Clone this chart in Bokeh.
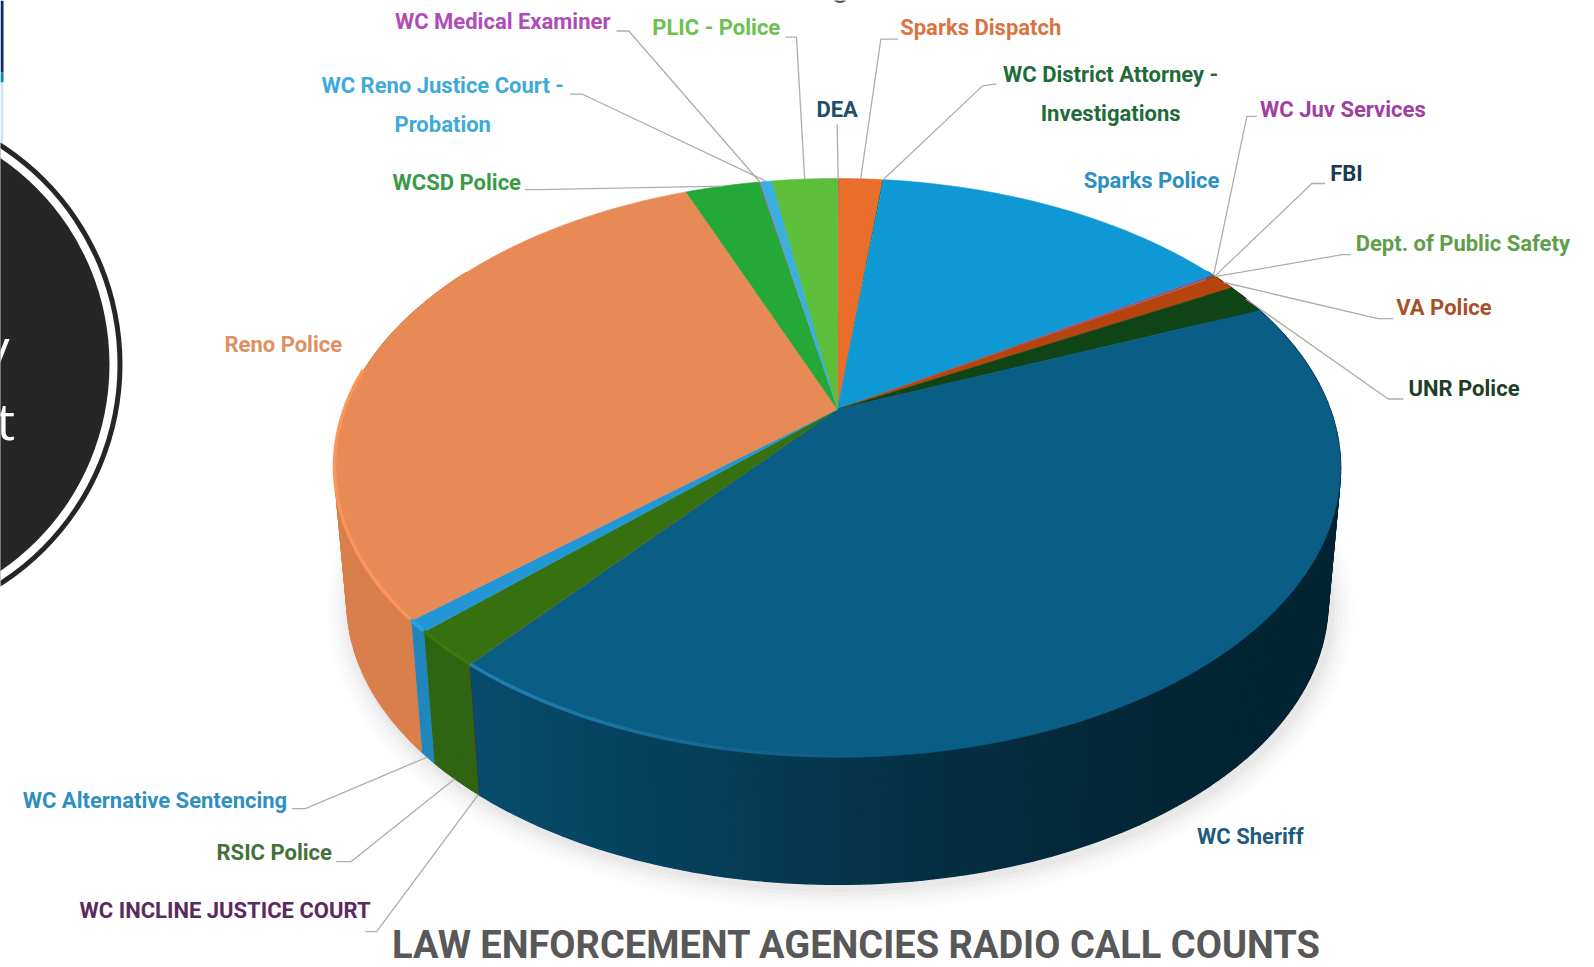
import math
from bokeh.plotting import figure
from bokeh.embed import file_html
from bokeh.resources import INLINE
from bokeh.core.properties import value

# ---- data: share of radio calls, clockwise from 12 o'clock
agencies = ["DEA", "Sparks Dispatch", "WC District Attorney -\nInvestigations", "Sparks Police",
            "WC Juv Services", "FBI", "Dept. of Public Safety", "VA Police", "UNR Police",
            "WC Sheriff", "WC INCLINE JUSTICE COURT", "RSIC Police", "WC Alternative Sentencing",
            "Reno Police", "WCSD Police", "WC Medical Examiner", "WC Reno Justice Court -\nProbation",
            "PLIC - Police"]
shares = [0.05, 1.70, 0.05, 14.20, 0.10, 0.02, 0.02, 0.90, 1.70, 42.10, 0.02, 2.00, 0.65,
          30.55, 2.90, 0.05, 0.45, 2.55]
face_colors = ["#1f4e6b", "#E96D2B", "#1c6b3a", "#0E99D5", "#9a3f9a", "#1b3a52", "#5aa83c", "#B5440F",
               "#0F4416", "#0A5D84", "#5a2a5c", "#36700F", "#2397D6", "#E88A55", "#24A838", "#b34db3",
               "#3bb0e0", "#5DBE3B"]
side_colors = ["#1f4e6b", "#c85a22", "#1c6b3a", "#0a7fb0", "#7a307a", "#1b3a52", "#4a8a30", "#8f350c",
               "#0b3410", "#074663", "#4a2050", "#2f6512", "#2186BE", "#D97F4C", "#1e8a2e", "#8f3d8f",
               "#2f95c0", "#4a9a30"]
label_colors = ["#1f4e6b", "#D9743F", "#1f6b3a", "#2b8fc0", "#A03FA0", "#1b3a52", "#5f9e4a", "#A8502A",
                "#1d3f25", "#1d5c80", "#5a2a5c", "#44703a", "#2f8fc0", "#DE905F", "#3a9a48", "#B04CB8",
                "#3fa9d8", "#6CC04F"]
title_text = "LAW ENFORCEMENT AGENCIES RADIO CALL COUNTS"

# ---- layout (page pixels)
W, H = 1594, 967
CX, V0 = 837.0, 408.7
A, B, K = 492.6, 277.5, 0.2028
S, V1 = 0.975, 544.4
S2 = 1.0166
LABEL_FONT = "Roboto"
label_pos = {  # x, y, align (shrunk-view coordinates)
    "DEA": (823, 107, "center"), "Sparks Dispatch": (885, 27, "left"),
    "WC District Attorney -\nInvestigations": (1092, 92, "center"), "Sparks Police": (1199, 177, "right"),
    "WC Juv Services": (1239, 107, "left"), "FBI": (1308, 170, "left"),
    "Dept. of Public Safety": (1333, 239, "left"), "VA Police": (1373, 302, "left"),
    "UNR Police": (1385, 382, "left"), "WC Sheriff": (1177, 822, "left"),
    "WC INCLINE JUSTICE COURT": (364, 895, "right"), "RSIC Police": (326, 838, "right"),
    "WC Alternative Sentencing": (282, 787, "right"), "Reno Police": (336, 338, "right"),
    "WCSD Police": (512, 179, "right"), "WC Medical Examiner": (600, 21, "right"),
    "WC Reno Justice Court -\nProbation": (435, 103, "center"), "PLIC - Police": (767, 27, "right"),
}
leaders = {  # label-side tick start, elbow, (rim anchor is computed from the slice)
    "DEA": [(823, 122), (823, 122)], "Sparks Dispatch": [(883, 38), (866, 38)],
    "WC District Attorney -\nInvestigations": [(980, 82), (966, 84)],
    "WC Juv Services": [(1236, 114), (1226, 114)], "FBI": [(1303, 180), (1290, 180)],
    "Dept. of Public Safety": [(1328, 250), (1320, 250)], "VA Police": [(1370, 313), (1355, 313)],
    "UNR Police": [(1380, 392), (1365, 392)], "WC INCLINE JUSTICE COURT": [(359, 916), (370, 916)],
    "RSIC Police": [(330, 847), (345, 847)], "WC Alternative Sentencing": [(287, 795), (300, 795)],
    "WCSD Police": [(516, 186), (530, 186)], "WC Medical Examiner": [(606, 30), (618, 30)],
    "WC Reno Justice Court -\nProbation": [(560, 92), (572, 92)], "PLIC - Police": [(772, 36), (783, 36)],
}


def rim(deg):
    t = math.radians(deg)
    X, Y = math.sin(t), math.cos(t)
    w = 1 + K * Y
    return CX + A * X / w, V0 - B * Y / w


def rim_low(deg):
    u, v = rim(deg)
    return CX + S * (u - CX), V1 + S * (v - V0)


def mix(c, f):
    r, g, b = int(c[1:3], 16), int(c[3:5], 16), int(c[5:7], 16)
    r, g, b = [max(0, min(255, int(x * f))) for x in (r, g, b)]
    return f"#{r:02x}{g:02x}{b:02x}"


p = figure(width=W, height=H, x_range=(0, W), y_range=(H, 0), toolbar_location=None,
           output_backend="svg", min_border=0, outline_line_color=None, background_fill_color="#FFFFFF")
p.axis.visible = False
p.grid.visible = False
p.styles = {"position": "absolute", "left": "0px", "top": "0px"}

# page decoration at the left edge
p.quad(left=[0], right=[3], top=[0], bottom=[72], fill_color="#0B2A66", line_color=None)
p.quad(left=[0], right=[3], top=[72], bottom=[82], fill_color="#0F7FB5", line_color=None)
p.quad(left=[0], right=[3], top=[82], bottom=[150], fill_color="#D6E6F5", line_color=None)
for r, col in ((263, "#262626"), (258, "#FFFFFF"), (250, "#262626")):
    p.circle(x=[-141], y=[364], radius=[r], fill_color=col, line_color=None)
p.text(x=[-17], y=[380], text=["y"], text_font=value("Open Sans"), text_font_size="52px", text_color="#FFFFFF",
       text_baseline="bottom")
p.text(x=[-4], y=[454], text=["t"], text_font=value("Open Sans"), text_font_size="52px", text_color="#FFFFFF",
       text_baseline="bottom")

# cropped heading above the pie
p.text(x=[840], y=[3], text=["g"], text_font=value(LABEL_FONT), text_font_size="30px", text_color="#555555",
       text_baseline="bottom", text_align="center")

# soft shadow under the pie
angs = list(range(0, 361, 3))
for grow, alpha in ((24, .008), (20, .010), (16, .012), (12, .015), (8, .018), (4, .025)):
    xs = [CX + (rim_low(a)[0] - CX) * (1 + grow / 500) + 3 for a in angs]
    ys = [V1 + (rim_low(a)[1] - V1) * (1 + grow / 350) + 4 for a in angs]
    p.patch(xs, ys, fill_color="#000000", fill_alpha=alpha, line_color=None)

# slice boundaries
total = sum(shares)
edges = [0.0]
for s in shares:
    edges.append(edges[-1] + s / total * 360)

SHADE_X = [470, 800, 1050, 1250]
SHADE_F = [1.10, 0.80, 0.60, 0.52]


def shade(deg):
    # side wall is lit from the left, darkest towards the right edge
    u = rim(deg)[0]
    if u <= SHADE_X[0]:
        return 1.0
    for k in range(3):
        if u <= SHADE_X[k + 1]:
            t = (u - SHADE_X[k]) / (SHADE_X[k + 1] - SHADE_X[k])
            return SHADE_F[k] + t * (SHADE_F[k + 1] - SHADE_F[k])
    return SHADE_F[-1]


# side wall
for i, name in enumerate(agencies):
    a0, a1 = edges[i], edges[i + 1]
    n = max(1, int((a1 - a0) / 1.0))
    for j in range(n):
        b0 = a0 + (a1 - a0) * j / n
        b1 = a0 + (a1 - a0) * (j + 1) / n
        if math.cos(math.radians((b0 + b1) / 2)) > 0.55:
            continue
        u0, v0 = rim(b0)
        u1, v1 = rim(b1)
        u2, v2 = rim_low(b1)
        u3, v3 = rim_low(b0)
        col = mix(side_colors[i], shade((b0 + b1) / 2))
        p.patch([u0, u1, u2, u3], [v0, v1, v2, v3], fill_color=col, line_color=col, line_width=1.5)

# top face
for i, name in enumerate(agencies):
    a0, a1 = edges[i], edges[i + 1]
    n = max(2, int((a1 - a0) / 1.0))
    pts = [rim(a0 + (a1 - a0) * j / n) for j in range(n + 1)]
    xs = [CX] + [q[0] for q in pts]
    ys = [V0] + [q[1] for q in pts]
    wide = shares[i] >= 0.3
    p.patch(xs, ys, fill_color=face_colors[i], line_color=face_colors[i] if wide else None,
            line_width=0.6 if wide else 0)

# bevel highlight along the front rim
for i, name in enumerate(agencies):
    a0, a1 = edges[i], edges[i + 1]
    lo, hi = max(a0, 130), min(a1, 278)
    if hi <= lo:
        continue
    n = max(2, int((hi - lo) / 2))
    for j in range(n):
        b0 = lo + (hi - lo) * j / n
        b1 = lo + (hi - lo) * (j + 1) / n
        mid = (b0 + b1) / 2
        ux = rim(mid)[0]
        fade = max(0.0, min(1.0, 1 - (ux - 470) / 380))
        if fade <= 0:
            continue
        q0, q1 = rim(b0), rim(b1)
        col = mix(face_colors[i], 1.35 if face_colors[i] == "#0A5D84" else 1.08)
        col = "#2380B0" if face_colors[i] == "#0A5D84" else col
        xs = [q0[0], q1[0]]
        ys = [q0[1] - 1.5, q1[1] - 1.5]
        p.line(xs, ys, line_color=col, line_alpha=fade, line_width=3.5)

# leaders and labels
for i, name in enumerate(agencies):
    mid = (edges[i] + edges[i + 1]) / 2
    if name in leaders:
        (x0, y0), (x1, y1) = leaders[name]
        ax, ay = rim_low(mid) if 215 < mid < 235 else rim(mid)
        p.line([x0 * S2, x1 * S2, ax], [y0 * S2, y1 * S2, ay], line_color="#ADADAD", line_width=1.3)
    x, y, al = label_pos[name]
    p.text(x=[x * S2], y=[y * S2], text=[name], text_align=al, text_baseline="middle",
           text_font=value(LABEL_FONT), text_font_style="bold", text_font_size="22px",
           text_color=label_colors[i], text_line_height=1.55)

p.text(x=[842 * S2], y=[929 * S2], text=[title_text], text_align="center", text_baseline="middle",
       text_font=value(LABEL_FONT), text_font_style="bold", text_font_size="38px", text_color="#585858")

open("out.html", "w").write(file_html(p, INLINE))
